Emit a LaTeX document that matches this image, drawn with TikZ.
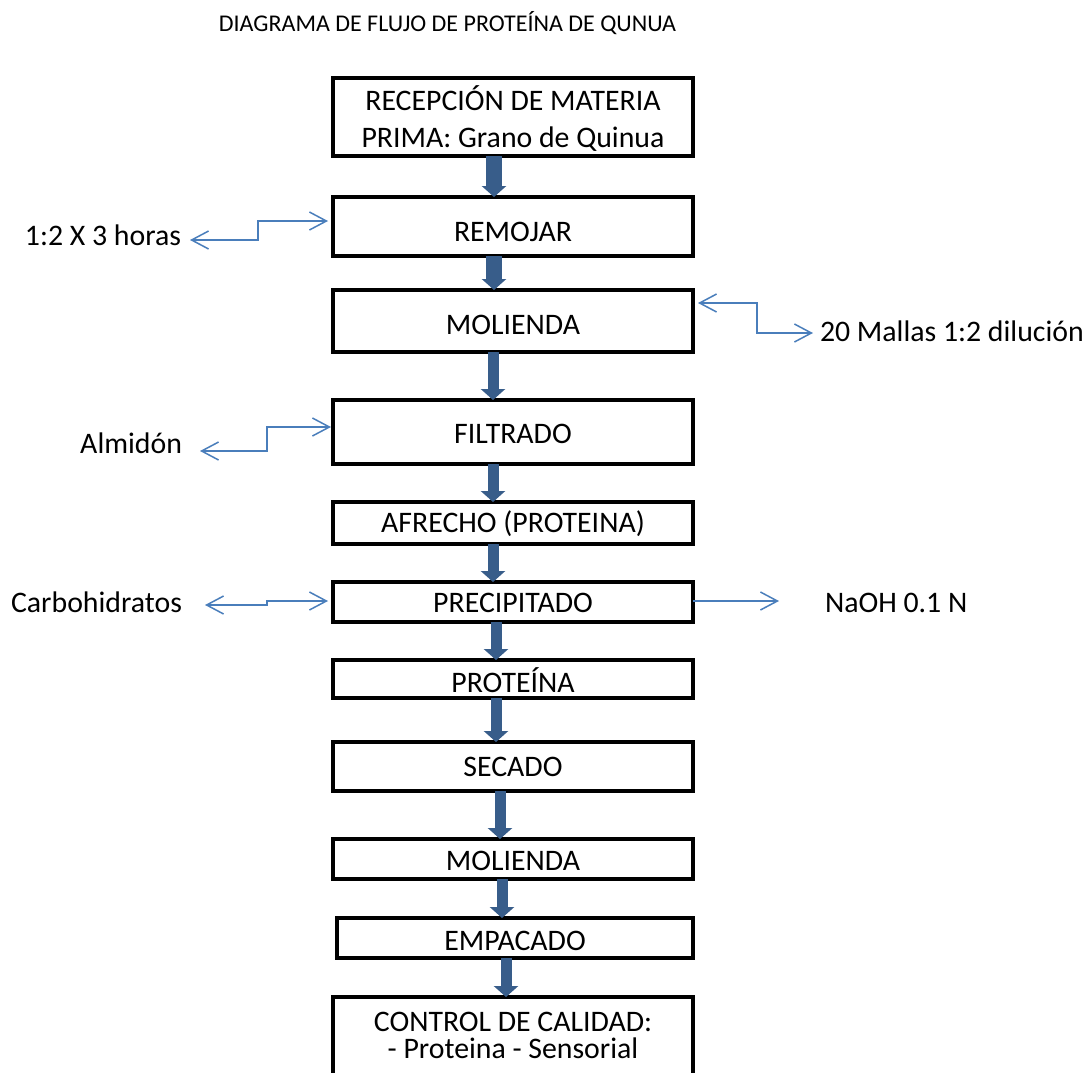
\documentclass[tikz,border=0pt]{standalone}
\usepackage{fontspec}
\setmainfont{Carlito}
\usetikzlibrary{arrows.meta}
\definecolor{flowblue}{HTML}{385D8A}
\definecolor{linkblue}{HTML}{4A7EBB}
\newcommand\boxfont{\fontsize{14.9}{18.5}\selectfont}
\newcommand\titlefont{\fontsize{12}{14}\selectfont}
% two centred lines with a fixed distance between their baselines
\newcommand\twoline[3]{\vbox{\baselineskip=#3\lineskiplimit=-20pt\lineskip=0pt\halign{\hfil##\hfil\cr#1\cr#2\cr}}}

\tikzset{
  stepbox/.style={draw, line width=2pt, minimum width=180pt, inner sep=0pt,
    outer sep=0pt, font=\boxfont, text height=9.4pt, text depth=0pt},
  sidelabel/.style={inner sep=0pt, outer sep=0pt, font=\boxfont},
  flow/.style={draw=flowblue, line width=5.5pt,
    -{Triangle[length=5.5pt,width=12pt]}},
  link/.style={draw=linkblue, line width=0.75pt,
    -{Straight Barb[length=8.5pt,width=9pt]}},
  dlink/.style={draw=linkblue, line width=0.75pt,
    {Straight Barb[length=8.5pt,width=9pt]}-{Straight Barb[length=8.5pt,width=9pt]}},
}

\begin{document}
\begin{tikzpicture}[x=0.5pt,y=-0.5pt]
\clip (0,0) rectangle (1087,1072);
\fill[white] (0,0) rectangle (1087,1072);

% title
\node[font=\titlefont, anchor=base, inner sep=0pt] (title) at (447.5,31)
  {DIAGRAMA DE FLUJO DE PROTEÍNA DE QUNUA};

% process steps
\node[stepbox, minimum height=39pt, text height=30pt] (b1) at (513,117)
  {\twoline{RECEPCIÓN DE MATERIA}{PRIMA: Grano de Quinua}{18.5pt}};
\node[stepbox, minimum height=29.5pt, text height=15.4pt] (b2) at (513,226.5) {REMOJAR};
\node[stepbox, minimum height=31pt, text height=13.4pt] (b3) at (513,321) {MOLIENDA};
\node[stepbox, minimum height=32pt, text height=11.9pt] (b4) at (513,432) {FILTRADO};
\node[stepbox, minimum height=21pt, text height=9.4pt] (b5) at (513,523) {AFRECHO (PROTEINA)};
\node[stepbox, minimum height=20pt, text height=10.9pt] (b6) at (513,602) {PRECIPITADO};
\node[stepbox, minimum height=19pt, text height=13.9pt] (b7) at (513,679) {PROTEÍNA};
\node[stepbox, minimum height=24.5pt, text height=10.4pt] (b8) at (513,766.5) {SECADO};
\node[stepbox, minimum height=20pt, text height=11.9pt] (b9) at (513,859) {MOLIENDA};
\node[stepbox, minimum width=178pt, minimum height=20pt, text height=12.4pt] (b10) at (515,938) {EMPACADO};
\node[stepbox, minimum height=44pt, text height=17pt] (b11) at (513,1041)
  {\twoline{CONTROL DE CALIDAD:}{- Proteina - Sensorial}{13.4pt}};

% side notes
\node[sidelabel, anchor=base east] (l1) at (181,245) {1:2 X 3 horas};
\node[sidelabel, anchor=base west] (l2) at (820,341) {20 Mallas 1:2 dilución};
\node[sidelabel, anchor=base east] (l3) at (182,453) {Almidón};
\node[sidelabel, anchor=base east] (l4) at (182,612) {Carbohidratos};
\node[sidelabel, anchor=base west] (l5) at (825,612) {NaOH 0.1 N};

% main flow
\draw[flow, line width=8pt] ([xshift=-9.5pt]b1.south) -- ([xshift=-9.5pt]b2.north);
\draw[flow, line width=8pt] ([xshift=-9.5pt]b2.south) -- ([xshift=-9.5pt]b3.north);
\draw[flow] ([xshift=-10pt]b3.south) -- ([xshift=-10pt]b4.north);
\draw[flow] ([xshift=-10pt]b4.south) -- ([xshift=-10pt]b5.north);
\draw[flow] ([xshift=-10pt]b5.south) -- ([xshift=-10pt]b6.north);
\draw[flow] ([xshift=-8.5pt]b6.south) -- ([xshift=-8.5pt]b7.north);
\draw[flow] ([xshift=-8.5pt]b7.south) -- ([xshift=-8.5pt]b8.north);
\draw[flow] ([xshift=-6.5pt]b8.south) -- ([xshift=-6.5pt]b9.north);
\draw[flow] ([xshift=-5.5pt]b9.south) -- ([xshift=-6.5pt]b10.north);
\draw[flow] ([xshift=-4.5pt]b10.south) -- ([xshift=-3.5pt]b11.north);

% side connectors
\draw[dlink] ([shift={(9,-5)}]l1.base east) -- ++(68,0) |- ([shift={(-5,-5.5)}]b2.west);
\draw[dlink] ([shift={(5,-18)}]b3.east) -- ++(59,0) |- ([shift={(-7,-8)}]l2.base west);
\draw[dlink] ([shift={(18,-2)}]l3.base east) -- ++(67,0) |- ([shift={(-2,-5)}]b4.west);
\draw[dlink] ([shift={(23,-7)}]l4.base east) -- ++(62,0) |- ([shift={(-5,-1)}]b6.west);
\draw[link] ([shift={(0,-1)}]b6.east) -- ([shift={(-46,-11)}]l5.base west);
\end{tikzpicture}
\end{document}
